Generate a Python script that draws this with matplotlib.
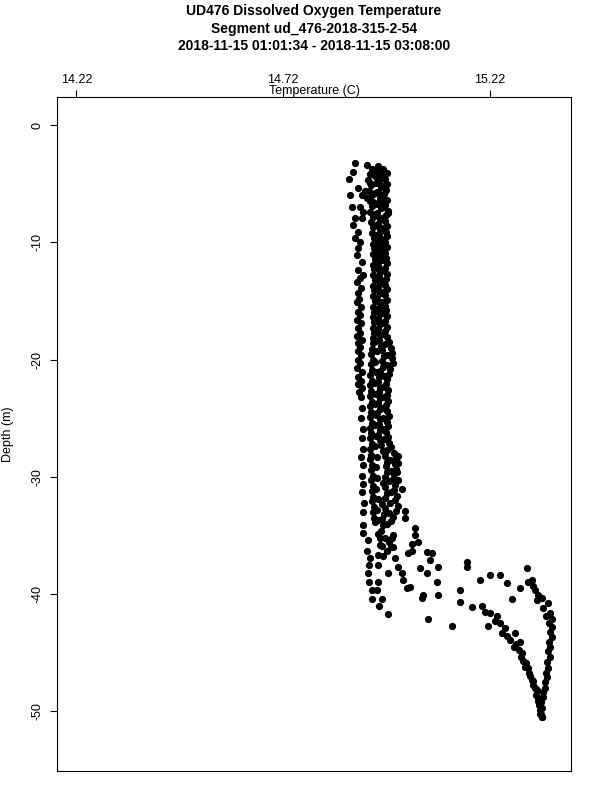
import matplotlib
matplotlib.use("Agg")
import matplotlib.pyplot as plt

plt.rcParams['font.family'] = ['Liberation Sans', 'DejaVu Sans']

# (temperature C, depth m) readings, grouped by part of the profile
top_spread = [
    (14.894, -3.2), (14.923, -3.4), (14.935, -3.7), (14.954, -3.8), (14.889, -4.0),
    (14.879, -4.6), (14.942, -4.3), (14.930, -4.9), (14.966, -5.3), (14.901, -5.4),
    (14.918, -5.6), (14.947, -5.7), (14.923, -6.2), (14.937, -6.6), (14.887, -7.0),
    (14.906, -7.0), (14.962, -6.7), (14.974, -7.5), (14.894, -7.9), (14.889, -8.5),
    (14.894, -9.6), (14.901, -9.1), (14.906, -10.0), (14.901, -10.5), (14.899, -11.1),
    (14.911, -11.7), (14.901, -12.4), (14.913, -12.8), (14.882, -6.0), (14.911, -6.0),
    (14.913, -7.4), (14.911, -7.9),
]

band_right = [
    (14.962, -3.7), (14.970, -4.1), (14.966, -4.6), (14.972, -5.0), (14.968, -5.5),
    (14.964, -5.9), (14.971, -6.4), (14.967, -6.8), (14.973, -7.3), (14.969, -7.7),
    (14.966, -8.2), (14.971, -8.6), (14.968, -9.1), (14.972, -9.5), (14.967, -10.0),
    (14.970, -10.4), (14.965, -10.9), (14.969, -11.3), (14.971, -11.8), (14.966, -12.2),
    (14.970, -12.7), (14.968, -13.1), (14.965, -13.6), (14.970, -14.0), (14.967, -14.5),
    (14.971, -14.9), (14.966, -15.4), (14.969, -15.8), (14.972, -16.3), (14.967, -16.7),
    (14.970, -17.2), (14.966, -17.6), (14.971, -18.1), (14.975, -18.5), (14.980, -19.0),
    (14.984, -19.4), (14.982, -19.9), (14.985, -20.3), (14.979, -20.8), (14.976, -21.2),
    (14.972, -21.7), (14.969, -22.1), (14.973, -22.6), (14.970, -23.0), (14.974, -23.5),
    (14.968, -23.9), (14.972, -24.4), (14.975, -24.8), (14.970, -25.3), (14.973, -25.7),
    (14.969, -26.2), (14.974, -26.6), (14.977, -27.1), (14.981, -27.5), (14.989, -28.0),
    (14.993, -28.4), (14.990, -28.9), (14.994, -29.3), (14.988, -29.8), (14.985, -30.2),
    (14.991, -30.7), (14.987, -31.1), (14.995, -31.6), (14.990, -32.0), (14.998, -32.5),
    (14.993, -32.9), (14.985, -33.4), (14.980, -33.8),
]

band_mid = [
    (14.950, -3.5), (14.955, -3.9), (14.948, -4.4), (14.952, -4.8), (14.957, -5.3),
    (14.949, -5.7), (14.954, -6.2), (14.951, -6.6), (14.956, -7.1), (14.948, -7.5),
    (14.953, -8.0), (14.950, -8.4), (14.955, -8.9), (14.952, -9.3), (14.949, -9.8),
    (14.954, -10.2), (14.951, -10.7), (14.956, -11.1), (14.952, -11.6), (14.949, -12.0),
    (14.954, -12.5), (14.951, -12.9), (14.955, -13.4), (14.950, -13.8), (14.953, -14.3),
    (14.948, -14.7), (14.954, -15.2), (14.951, -15.6), (14.955, -16.1), (14.950, -16.5),
    (14.953, -17.0), (14.949, -17.4), (14.954, -17.9), (14.951, -18.3), (14.956, -18.8),
    (14.960, -19.2), (14.963, -19.7), (14.958, -20.1), (14.961, -20.6), (14.955, -21.0),
    (14.952, -21.5), (14.949, -21.9), (14.954, -22.4), (14.951, -22.8), (14.955, -23.3),
    (14.950, -23.7), (14.953, -24.2), (14.948, -24.6), (14.954, -25.1), (14.951, -25.5),
    (14.955, -26.0), (14.950, -26.4), (14.953, -26.9), (14.957, -27.3), (14.961, -27.8),
    (14.966, -28.2), (14.970, -28.7), (14.968, -29.1), (14.972, -29.6), (14.966, -30.0),
    (14.962, -30.5), (14.967, -30.9), (14.971, -31.4), (14.965, -31.8), (14.960, -32.3),
    (14.966, -32.7), (14.963, -33.2), (14.958, -33.6), (14.962, -34.1), (14.957, -34.6),
]

band_left = [
    (14.930, -4.2), (14.924, -4.7), (14.932, -5.1), (14.927, -5.6), (14.934, -6.0),
    (14.929, -6.5), (14.935, -6.9), (14.931, -7.4), (14.937, -7.8), (14.933, -8.3),
    (14.938, -8.7), (14.935, -9.2), (14.939, -9.6), (14.936, -10.1), (14.940, -10.5),
    (14.937, -11.0), (14.941, -11.4), (14.938, -11.9), (14.940, -12.3), (14.937, -12.8),
    (14.941, -13.2), (14.938, -13.7), (14.940, -14.1), (14.937, -14.6), (14.941, -15.0),
    (14.938, -15.5), (14.940, -15.9), (14.936, -16.4), (14.939, -16.8), (14.937, -17.3),
    (14.940, -17.7), (14.936, -18.2), (14.938, -18.6), (14.935, -19.1), (14.933, -19.5),
    (14.936, -20.0), (14.932, -20.4), (14.935, -20.9), (14.931, -21.3), (14.934, -21.8),
    (14.930, -22.2), (14.933, -22.7), (14.931, -23.1), (14.934, -23.6), (14.930, -24.0),
    (14.933, -24.5), (14.931, -24.9), (14.934, -25.4), (14.930, -25.8), (14.933, -26.3),
    (14.931, -26.7), (14.934, -27.2), (14.930, -27.6), (14.933, -28.1), (14.931, -28.5),
    (14.935, -29.0), (14.932, -29.4), (14.936, -29.9), (14.933, -30.3), (14.937, -30.8),
    (14.934, -31.2), (14.938, -31.7), (14.935, -32.1), (14.939, -32.6), (14.936, -33.0),
    (14.940, -33.5), (14.943, -33.9),
]

band_inner_a = [
    (14.943, -4.0), (14.945, -4.9), (14.942, -5.8), (14.946, -6.7), (14.944, -7.6),
    (14.947, -8.5), (14.945, -9.4), (14.946, -10.3), (14.944, -11.2), (14.947, -12.1),
    (14.945, -13.0), (14.946, -13.9), (14.944, -14.8), (14.947, -15.7), (14.945, -16.6),
    (14.946, -17.5), (14.944, -18.4), (14.946, -19.3), (14.943, -20.2), (14.945, -21.1),
    (14.942, -22.0), (14.944, -22.9), (14.942, -23.8), (14.945, -24.7), (14.943, -25.6),
    (14.944, -26.5), (14.942, -27.4), (14.946, -28.3), (14.944, -29.2), (14.948, -30.1),
    (14.945, -31.0), (14.949, -31.9), (14.947, -32.8), (14.950, -33.7),
]

band_inner_b = [
    (14.959, -4.3), (14.961, -5.2), (14.958, -6.1), (14.962, -7.0), (14.960, -7.9),
    (14.961, -8.8), (14.959, -9.7), (14.962, -10.6), (14.960, -11.5), (14.961, -12.4),
    (14.959, -13.3), (14.962, -14.2), (14.960, -15.1), (14.961, -16.0), (14.959, -16.9),
    (14.962, -17.8), (14.966, -18.7), (14.972, -19.6), (14.970, -20.5), (14.964, -21.4),
    (14.961, -22.3), (14.963, -23.2), (14.960, -24.1), (14.962, -25.0), (14.961, -25.9),
    (14.964, -26.8), (14.970, -27.7), (14.978, -28.6), (14.981, -29.5), (14.977, -30.4),
    (14.980, -31.3), (14.978, -32.2), (14.976, -33.1), (14.972, -34.0),
]

left_column = [
    (14.906, -13.0), (14.909, -13.9), (14.904, -14.8), (14.908, -15.5), (14.905, -16.2),
    (14.909, -16.9), (14.906, -17.7), (14.910, -18.3), (14.905, -18.9), (14.909, -19.6),
    (14.906, -20.3), (14.910, -21.1), (14.907, -21.8), (14.911, -22.4), (14.908, -23.2),
    (14.911, -24.1), (14.909, -25.0), (14.913, -25.9), (14.910, -26.7), (14.912, -27.6),
    (14.909, -28.3), (14.913, -29.0), (14.911, -29.9), (14.914, -30.6), (14.911, -31.3),
    (14.915, -32.2), (14.913, -33.0), (14.913, -34.1), (14.913, -34.8), (14.925, -35.4),
    (14.923, -36.3), (14.930, -36.9), (14.928, -37.5), (14.925, -38.2), (14.928, -39.0),
    (14.935, -39.7), (14.935, -40.4), (14.952, -41.0), (14.974, -41.7),
]

left_column_b = [
    (14.899, -13.4), (14.901, -14.3), (14.898, -15.1), (14.902, -15.9), (14.899, -16.6),
    (14.901, -17.3), (14.898, -18.0), (14.902, -18.6), (14.900, -19.3), (14.901, -20.0),
    (14.899, -20.7), (14.902, -21.5), (14.900, -22.1), (14.903, -22.8),
]

lower_left = [
    (14.954, -35.2), (14.954, -35.8), (14.950, -36.7), (14.950, -37.5), (14.974, -38.2),
    (14.950, -39.0), (14.947, -39.7), (14.959, -40.4), (14.950, -34.9), (14.965, -35.2),
    (14.975, -35.6), (14.958, -35.9), (14.970, -36.3), (14.962, -36.8), (14.980, -36.0),
    (14.985, -35.0),
]

middle_branch = [
    (14.998, -28.2), (14.998, -28.8), (14.995, -29.6), (14.998, -30.3), (15.008, -31.0),
    (15.015, -32.9), (15.015, -33.5), (14.983, -35.2), (14.986, -36.0), (14.991, -36.9),
    (14.998, -37.7), (15.008, -38.2), (15.010, -38.8), (15.020, -39.5), (15.027, -39.4),
    (15.056, -40.3), (15.070, -42.1), (15.128, -42.7),
]

right_cluster = [
    (15.039, -34.4), (15.039, -35.0), (15.046, -35.6), (15.032, -35.7), (15.022, -36.5),
    (15.032, -36.3), (15.068, -36.4), (15.080, -36.5), (15.075, -37.1), (15.095, -37.7),
    (15.051, -37.8), (15.068, -38.2), (15.092, -39.0), (15.058, -40.1), (15.095, -40.1),
    (15.165, -37.3), (15.165, -37.7), (15.148, -39.7), (15.148, -40.7), (15.196, -38.8),
    (15.220, -38.4), (15.245, -38.4), (15.262, -39.1), (15.293, -39.5), (15.274, -40.4),
]

curve_right = [
    (15.310, -37.8), (15.322, -38.8), (15.312, -39.0), (15.325, -39.3), (15.329, -39.7),
    (15.337, -40.1), (15.346, -40.3), (15.334, -40.5), (15.361, -40.8), (15.348, -41.2),
    (15.366, -41.6), (15.356, -41.9), (15.370, -42.1), (15.362, -42.5), (15.370, -42.8),
    (15.365, -43.2), (15.370, -43.7), (15.363, -44.1), (15.366, -44.5), (15.360, -44.9),
    (15.366, -45.4), (15.359, -45.8), (15.361, -46.3), (15.355, -46.7), (15.358, -47.1),
    (15.352, -47.5), (15.353, -48.0), (15.348, -48.4), (15.348, -48.8), (15.344, -49.2),
    (15.346, -49.7), (15.343, -50.2), (15.345, -50.5),
]

curve_lower = [
    (15.177, -41.1), (15.201, -41.0), (15.208, -41.5), (15.220, -41.6), (15.238, -41.9),
    (15.233, -42.3), (15.245, -42.5), (15.216, -42.7), (15.257, -42.9), (15.250, -43.3),
    (15.281, -43.3), (15.262, -43.6), (15.269, -43.9), (15.293, -44.1), (15.284, -44.3),
    (15.277, -44.5), (15.290, -44.8), (15.298, -45.0), (15.294, -45.4), (15.301, -45.7),
    (15.308, -45.9), (15.305, -46.2), (15.312, -46.3), (15.315, -46.7), (15.317, -47.0),
    (15.321, -47.3), (15.325, -47.4), (15.324, -47.8), (15.330, -48.0), (15.334, -48.2),
    (15.331, -48.6), (15.336, -48.9), (15.337, -49.1), (15.339, -49.5), (15.341, -49.9),
    (15.340, -50.2), (15.346, -50.5),
]

x_ticks = [14.22, 14.72, 15.22]
y_ticks = [0, -10, -20, -30, -40, -50]

groups = [top_spread, band_right, band_mid, band_left, band_inner_a, band_inner_b,
          left_column, left_column_b, lower_left, middle_branch, right_cluster,
          curve_right, curve_lower]
temps = [p[0] for g in groups for p in g]
depths = [p[1] for g in groups for p in g]

fig = plt.figure(figsize=(6, 8), dpi=100)
ax = fig.add_axes([57 / 600, 1 - 771 / 800, 514 / 600, 674 / 800])

ax.plot(temps, depths, 'o', color='black', ms=5.2, mew=0)

ax.set_xlim(14.173, 15.416)
ax.set_ylim(-55.1, 2.4)

ax.xaxis.tick_top()
ax.set_xticks(x_ticks)
ax.set_xticklabels(['%.2f' % v for v in x_ticks])
ax.set_yticks(y_ticks)
ax.set_yticklabels([str(v) for v in y_ticks], rotation=90, va='center')
ax.tick_params(direction='out', length=5, width=0.8, labelsize=9, colors='black')
ax.tick_params(axis='x', pad=3)
ax.tick_params(axis='y', pad=5)
for s in ax.spines.values():
    s.set_linewidth(0.8)

cx = 0.5 * (57 + 571) / 600
fig.text(cx, 1 - 91 / 800, 'Temperature (C)', ha='center', va='center', fontsize=9)
fig.text(8 / 600, 1 - 434 / 800, 'Depth (m)', ha='center', va='center', rotation=90, fontsize=9)

title_lines = ['UD476 Dissolved Oxygen Temperature',
               'Segment ud_476-2018-315-2-54',
               '2018-11-15 01:01:34 - 2018-11-15 03:08:00']
for i, line in enumerate(title_lines):
    fig.text(cx, 1 - (11 + 17.5 * i) / 800, line,
             ha='center', va='center', fontsize=10, fontweight='bold')

fig.savefig('out.png', dpi=100)
